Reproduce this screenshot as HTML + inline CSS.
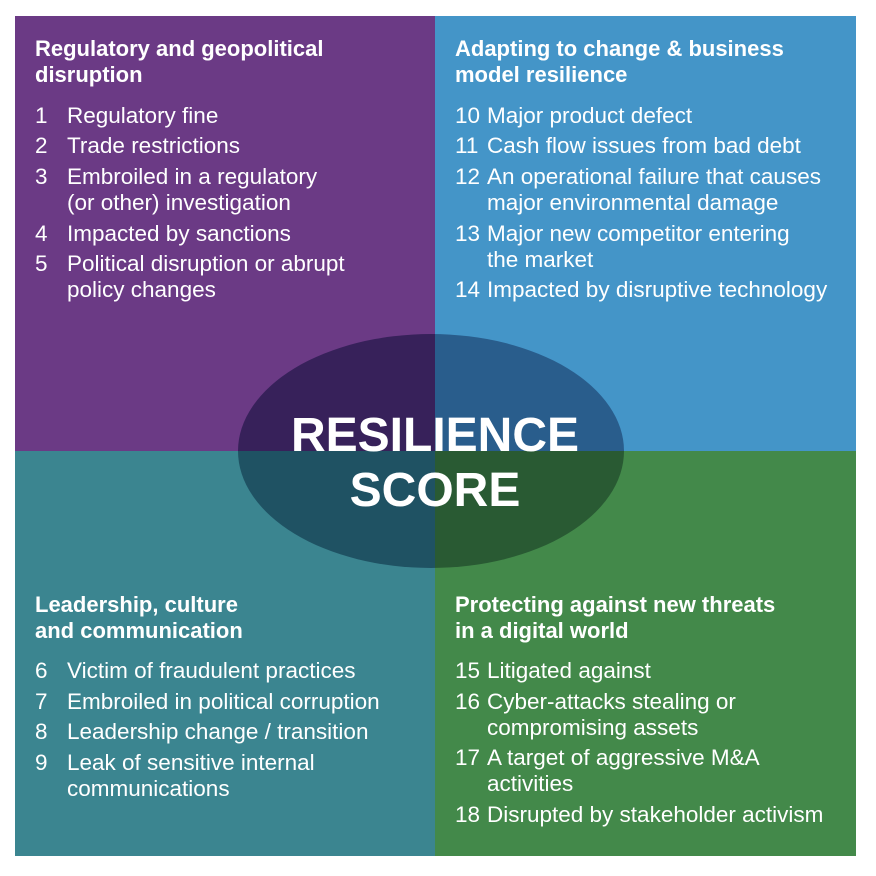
<!DOCTYPE html>
<html><head><meta charset="utf-8"><style>
body{margin:0;width:876px;height:876px;background:#fff;position:relative;overflow:hidden;font-family:"Liberation Sans",sans-serif;color:#fff}
.q{position:absolute}
.t{position:absolute;font-weight:bold;font-size:22px;line-height:26px;white-space:nowrap}
.i{position:absolute;font-size:22.5px;line-height:26px;white-space:nowrap}
svg{position:absolute;left:0;top:0}
</style></head><body>
<div class="q" style="left:15px;top:16px;width:420px;height:435px;background:#6b3a85"></div>
<div class="q" style="left:435px;top:16px;width:421px;height:435px;background:#4495c8"></div>
<div class="q" style="left:15px;top:451px;width:420px;height:405px;background:#3b8590"></div>
<div class="q" style="left:435px;top:451px;width:421px;height:405px;background:#43894a"></div>
<svg width="876" height="876">
<defs><clipPath id="e"><ellipse cx="431" cy="451" rx="193" ry="117"/></clipPath></defs>
<g clip-path="url(#e)">
<rect x="0" y="0" width="435" height="451" fill="#37215a"/>
<rect x="435" y="0" width="441" height="451" fill="#295d8c"/>
<rect x="0" y="451" width="435" height="425" fill="#1f5263"/>
<rect x="435" y="451" width="441" height="425" fill="#295a33"/>
</g>
<text x="435" y="451" text-anchor="middle" font-family="Liberation Sans" font-weight="bold" font-size="48" fill="#fff">RESILIENCE</text>
<text x="435" y="506" text-anchor="middle" font-family="Liberation Sans" font-weight="bold" font-size="48" fill="#fff">SCORE</text>
</svg>

<div class="t" style="left:35px;top:36px">Regulatory and geopolitical</div>
<div class="t" style="left:35px;top:62px">disruption</div>
<div class="i" style="left:35px;top:103px">1</div><div class="i" style="left:67px;top:103px">Regulatory fine</div>
<div class="i" style="left:35px;top:133px">2</div><div class="i" style="left:67px;top:133px">Trade restrictions</div>
<div class="i" style="left:35px;top:164px">3</div><div class="i" style="left:67px;top:164px">Embroiled in a regulatory</div>
<div class="i" style="left:67px;top:190px">(or other) investigation</div>
<div class="i" style="left:35px;top:221px">4</div><div class="i" style="left:67px;top:221px">Impacted by sanctions</div>
<div class="i" style="left:35px;top:251px">5</div><div class="i" style="left:67px;top:251px">Political disruption or abrupt</div>
<div class="i" style="left:67px;top:277px">policy changes</div>

<div class="t" style="left:455px;top:36px">Adapting to change &amp; business</div>
<div class="t" style="left:455px;top:62px">model resilience</div>
<div class="i" style="left:455px;top:103px">10</div><div class="i" style="left:487px;top:103px">Major product defect</div>
<div class="i" style="left:455px;top:133px">11</div><div class="i" style="left:487px;top:133px">Cash flow issues from bad debt</div>
<div class="i" style="left:455px;top:164px">12</div><div class="i" style="left:487px;top:164px">An operational failure that causes</div>
<div class="i" style="left:487px;top:190px">major environmental damage</div>
<div class="i" style="left:455px;top:221px">13</div><div class="i" style="left:487px;top:221px">Major new competitor entering</div>
<div class="i" style="left:487px;top:247px">the market</div>
<div class="i" style="left:455px;top:277px">14</div><div class="i" style="left:487px;top:277px">Impacted by disruptive technology</div>

<div class="t" style="left:35px;top:592px">Leadership, culture</div>
<div class="t" style="left:35px;top:618px">and communication</div>
<div class="i" style="left:35px;top:658px">6</div><div class="i" style="left:67px;top:658px">Victim of fraudulent practices</div>
<div class="i" style="left:35px;top:689px">7</div><div class="i" style="left:67px;top:689px">Embroiled in political corruption</div>
<div class="i" style="left:35px;top:719px">8</div><div class="i" style="left:67px;top:719px">Leadership change / transition</div>
<div class="i" style="left:35px;top:750px">9</div><div class="i" style="left:67px;top:750px">Leak of sensitive internal</div>
<div class="i" style="left:67px;top:776px">communications</div>

<div class="t" style="left:455px;top:592px">Protecting against new threats</div>
<div class="t" style="left:455px;top:618px">in a digital world</div>
<div class="i" style="left:455px;top:658px">15</div><div class="i" style="left:487px;top:658px">Litigated against</div>
<div class="i" style="left:455px;top:689px">16</div><div class="i" style="left:487px;top:689px">Cyber-attacks stealing or</div>
<div class="i" style="left:487px;top:715px">compromising assets</div>
<div class="i" style="left:455px;top:745px">17</div><div class="i" style="left:487px;top:745px">A target of aggressive M&amp;A</div>
<div class="i" style="left:487px;top:771px">activities</div>
<div class="i" style="left:455px;top:802px">18</div><div class="i" style="left:487px;top:802px">Disrupted by stakeholder activism</div>
</body></html>
